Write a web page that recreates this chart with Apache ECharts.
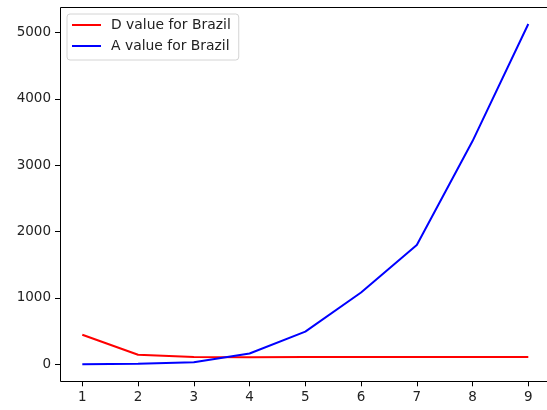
<!DOCTYPE html>
<html>
<head>
<meta charset="utf-8">
<script src="https://cdn.jsdelivr.net/npm/echarts@6/dist/echarts.min.js"></script>
<style>
  html, body { margin: 0; padding: 0; background: #fff; overflow: hidden; }
  #chart { width: 547px; height: 410px; }
</style>
</head>
<body>
<div id="chart"></div>
<script>
// Observation index (x) and the two Brazil series
const xValues = [1, 2, 3, 4, 5, 6, 7, 8, 9];
const dValues = [446, 143, 108, 107, 108, 109, 110, 110, 110];
const aValues = [0, 8, 32, 163, 492, 1083, 1797, 3365, 5130];
const seriesNames = ['D value for Brazil', 'A value for Brazil'];
const xTicks = [1, 2, 3, 4, 5, 6, 7, 8, 9];
const yTicks = [0, 1000, 2000, 3000, 4000, 5000];

// 5% padding around the data range on both axes
function padded(values) {
  const lo = Math.min(...values), hi = Math.max(...values);
  const m = (hi - lo) * 0.05;
  return [lo - m, hi + m];
}
const [xMin, xMax] = padded(xValues);
const [yMin, yMax] = padded(dValues.concat(aValues));

const font = 'DejaVu Sans';
const plot = { left: 60, top: 7, width: 490.6, height: 374.3 };
const chart = echarts.init(document.getElementById('chart'), null, { renderer: 'canvas' });

// Axis with outward ticks and labels at the given values
function tickAxis(min, max, ticks, position) {
  return {
    type: 'value',
    position: position,
    min: min, max: max,
    splitLine: { show: false },
    axisLine: { show: false, onZero: false },
    axisTick: { show: true, length: 5, customValues: ticks, lineStyle: { color: '#000', width: 1 } },
    axisLabel: { show: true, customValues: ticks, color: '#222', fontFamily: font, fontSize: 13.5, margin: 9,
                 formatter: v => String(Math.round(v)) }
  };
}

// Frame lines (left, bottom, top); the right edge lies past the page
const fx0 = plot.left + 0.5, fx1 = 547;
const fy0 = plot.top + 0.5, fy1 = Math.round(plot.top + plot.height) + 0.5;
const frame = [
  [fx0, fy0, fx0, fy1],
  [fx0, fy1, fx1, fy1],
  [fx0, fy0, fx1, fy0]
].map(s => ({
  type: 'line', z: 10, silent: true,
  shape: { x1: s[0], y1: s[1], x2: s[2], y2: s[3] },
  style: { stroke: '#000', lineWidth: 1 }
}));

chart.setOption({
  animation: false,
  backgroundColor: '#fff',
  grid: Object.assign({ outerBoundsMode: 'none', containLabel: false, show: false }, plot),
  legend: {
    orient: 'vertical',
    left: 67, top: 14, z: 20,
    itemWidth: 29, itemHeight: 14, itemGap: 7,
    padding: [4, 8, 7, 4],
    backgroundColor: 'rgba(255,255,255,0.8)',
    borderColor: '#d4d4d4', borderWidth: 1, borderRadius: 3,
    itemStyle: { opacity: 0 },
    textStyle: { fontFamily: font, fontSize: 13.9, color: '#222', padding: [0, 0, 0, 5] },
    data: seriesNames
  },
  graphic: { elements: frame },
  xAxis: tickAxis(xMin, xMax, xTicks, 'bottom'),
  yAxis: tickAxis(yMin, yMax, yTicks, 'left'),
  series: [
    {
      name: seriesNames[0], type: 'line', symbol: 'none',
      lineStyle: { color: '#ff0000', width: 2 }, itemStyle: { color: '#ff0000' },
      data: xValues.map((x, i) => [x, dValues[i]])
    },
    {
      name: seriesNames[1], type: 'line', symbol: 'none',
      lineStyle: { color: '#0000ff', width: 2 }, itemStyle: { color: '#0000ff' },
      data: xValues.map((x, i) => [x, aValues[i]])
    }
  ]
});
</script>
</body>
</html>
